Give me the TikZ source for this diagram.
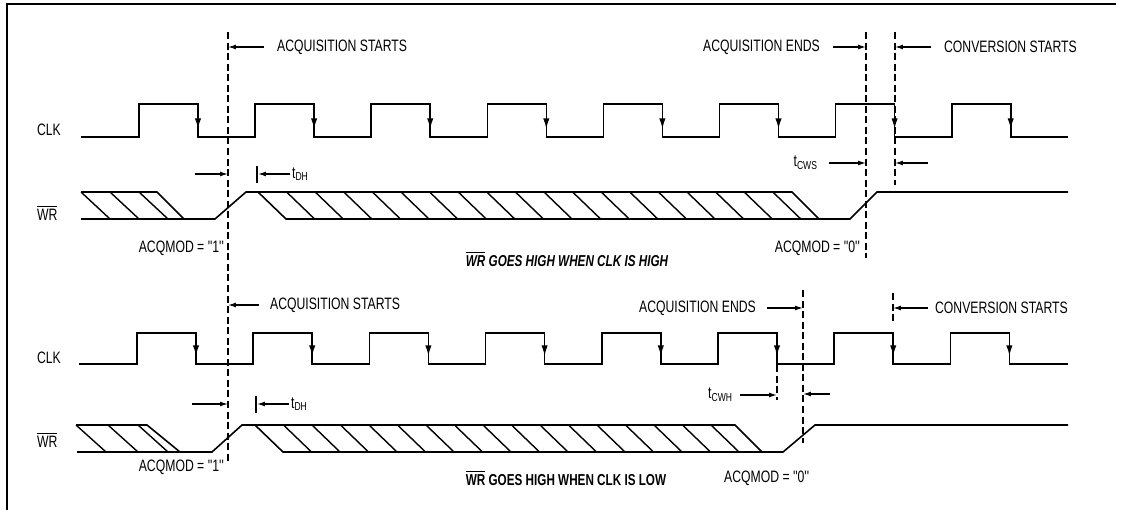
\documentclass[tikz,border=0pt]{standalone}
\usepackage{fontspec}
\newfontfamily\narrowfont[FakeStretch=0.74]{Liberation Sans}
\usetikzlibrary{arrows.meta, positioning}

\begin{document}
\begin{tikzpicture}[x=0.02cm, y=-0.02cm,
        wave/.style={ line width=0.9pt, line join=miter },
        hatch/.style={ line width=0.8pt },
        guide/.style={ dashed, dash pattern=on 4pt off 2pt, line width=0.6pt },
        dimarrow/.style={ -{Latex[length=4.5pt,width=2.8pt]}, line width=0.7pt },
        fallarrow/.style={ -{Latex[length=6pt,width=3.6pt]}, line width=0.9pt },
        lbl/.style={ font=\narrowfont\fontsize{9.4}{11}\selectfont, inner sep=1pt },
        titlelbl/.style={ font=\narrowfont\fontsize{9}{11}\selectfont\bfseries, inner sep=1pt }
    ]
    \useasboundingbox (0,0) rectangle (1122,510);
    \draw[line width=1.3pt] (7,510) -- (7,4) -- (1116,4);

    % Guide lines
    \coordinate (dashA) at (228,32);
    \coordinate (dashC) at (866,32);
    \coordinate (dashD) at (895,32);
    \coordinate (dashE) at (777,365);
    \coordinate (dashF) at (803,290);
    \coordinate (dashG) at (893,293);
    \draw[guide] (dashA) -- (228,463);
    \draw[guide] (dashC) -- (866,258);
    \draw[guide] (dashD) -- (895,185);
    \draw[guide] (dashE) -- (777,400);
    \draw[guide] (dashF) -- (803,443);
    \draw[guide] (dashG) -- (893,322);

    % ---------- Upper diagram ----------
    \node (clkA) [lbl, anchor=west] at (35,130) {CLK};
    \node (wrA) [lbl, anchor=west] at (35,213) {$\overline{\mbox{WR}}$};

    % Clock
    \draw[wave] (81,137) foreach \k in {0,...,7} { -- ({139+116.1*\k},137) -- ++(0,-33) -- ++(59,0) -- ++(0,33) } -- (1068,137);
    \foreach \k in {0,...,7}
        \draw[fallarrow] ({198+116.1*\k},104) -- ++(0,25);

    % Write strobe
    \draw[wave] (81,192) -- (157,192) -- (184,219);
    \draw[wave] (81,219) -- (215,219) -- (246,192) -- (792,192) -- (819,219);
    \draw[wave] (258,192) -- (286,219) -- (850,219) -- (877,192) -- (1068,192);
    \foreach \x in {81,110,139}
        \draw[hatch] (\x,192) -- ++(29,27);
    \foreach \k in {1,...,18}
        \draw[hatch] ({258+28.6*\k},192) -- ++(28,27);

    % Labels and markers
    \node (acqstartA) [lbl, anchor=west] at (275,47) {ACQUISITION STARTS};
    \node (acqendA) [lbl, anchor=east] at (822,47) {ACQUISITION ENDS};
    \node (convstartA) [lbl, anchor=west] at (942,47) {CONVERSION STARTS};
    \draw[dimarrow] ([xshift=-6pt]acqstartA.west) -- (acqstartA.west -| dashA);
    \draw[dimarrow] ([xshift=6pt]acqendA.east) -- (acqendA.east -| dashC);
    \draw[dimarrow] ([xshift=-6pt]convstartA.west) -- (convstartA.west -| dashD);

    \coordinate (tdhinA) at (195,174);
    \coordinate (tdhbarA) at (258,174);
    \draw[line width=0.7pt] (257,166) -- (257,183);
    \draw[dimarrow] (tdhinA) -- (tdhinA -| dashA);
    \node (tdhA) [lbl, anchor=west] at (290,174) {t\textsubscript{DH}};
    \draw[dimarrow] (tdhA.west) -- (tdhbarA);

    \node (tcwsA) [lbl, anchor=east] at (820,163) {t\textsubscript{CWS}};
    \coordinate (tcwsoutA) at (928,163);
    \draw[dimarrow] ([xshift=5pt]tcwsA.east) -- (tcwsA.east -| dashC);
    \draw[dimarrow] (tcwsoutA) -- (tcwsoutA -| dashD);

    \node (acqoneA) [lbl, anchor=east] at (226,248) {ACQMOD = ''1''};
    \node (acqzeroA) [lbl, anchor=east] at (862,248) {ACQMOD = ''0''};
    \node (titleA) [titlelbl, font=\narrowfont\fontsize{9}{11}\selectfont\bfseries\itshape] at (567,259) {$\overline{\mbox{WR}}$ GOES HIGH WHEN CLK IS HIGH};

    % ---------- Lower diagram ----------
    \node (clkB) [lbl, anchor=west] at (35,358) {CLK};
    \node (wrB) [lbl, anchor=west] at (35,440) {$\overline{\mbox{WR}}$};

    % Clock
    \draw[wave] (79,364) foreach \k in {0,...,7} { -- ({137+116.2*\k},364) -- ++(0,-31) -- ++(59,0) -- ++(0,31) } -- (1068,364);
    \foreach \k in {0,...,7}
        \draw[fallarrow] ({196+116.2*\k},333) -- ++(0,23);

    % Write strobe
    \draw[wave] (76,425) -- (147,425) -- (180,452);
    \draw[wave] (77,452) -- (212,452) -- (242,425) -- (735,425) -- (762,452);
    \draw[wave] (255,425) -- (283,452) -- (783,452) -- (815,425) -- (1068,425);
    \foreach \x in {76,108,138}
        \draw[hatch] (\x,425) -- ++(30,27);
    \foreach \k in {1,...,16}
        \draw[hatch] ({255+28.5*\k},425) -- ++(28,27);

    % Labels and markers
    \node (acqstartB) [lbl, anchor=west] at (268,305) {ACQUISITION STARTS};
    \node (acqendB) [lbl, anchor=east] at (758,308) {ACQUISITION ENDS};
    \node (convstartB) [lbl, anchor=west] at (933,308) {CONVERSION STARTS};
    \draw[dimarrow] ([xshift=-5pt]acqstartB.west) -- (acqstartB.west -| dashA);
    \draw[dimarrow] ([xshift=5pt]acqendB.east) -- (acqendB.east -| dashF);
    \draw[dimarrow] ([xshift=-3pt]convstartB.west) -- (convstartB.west -| dashG);

    \coordinate (tdhinB) at (192,404);
    \coordinate (tdhbarB) at (257,404);
    \draw[line width=0.7pt] (256,396) -- (256,413);
    \draw[dimarrow] (tdhinB) -- (tdhinB -| dashA);
    \node (tdhB) [lbl, anchor=west] at (289,404) {t\textsubscript{DH}};
    \draw[dimarrow] (tdhB.west) -- (tdhbarB);

    \node (tcwhB) [lbl, anchor=east] at (735,395) {t\textsubscript{CWH}};
    \coordinate (tcwhoutB) at (830,394);
    \draw[dimarrow] ([xshift=3pt]tcwhB.east) -- (tcwhB.east -| dashE);
    \draw[dimarrow] (tcwhoutB) -- (tcwhoutB -| dashF);

    \node (acqoneB) [lbl, anchor=east] at (226,467) {ACQMOD = ''1''};
    \node (acqzeroB) [lbl, anchor=west] at (722,478) {ACQMOD = ''0''};
    \node (titleB) [titlelbl] at (566,478) {$\overline{\mbox{WR}}$ GOES HIGH WHEN CLK IS LOW};
\end{tikzpicture}
\end{document}
